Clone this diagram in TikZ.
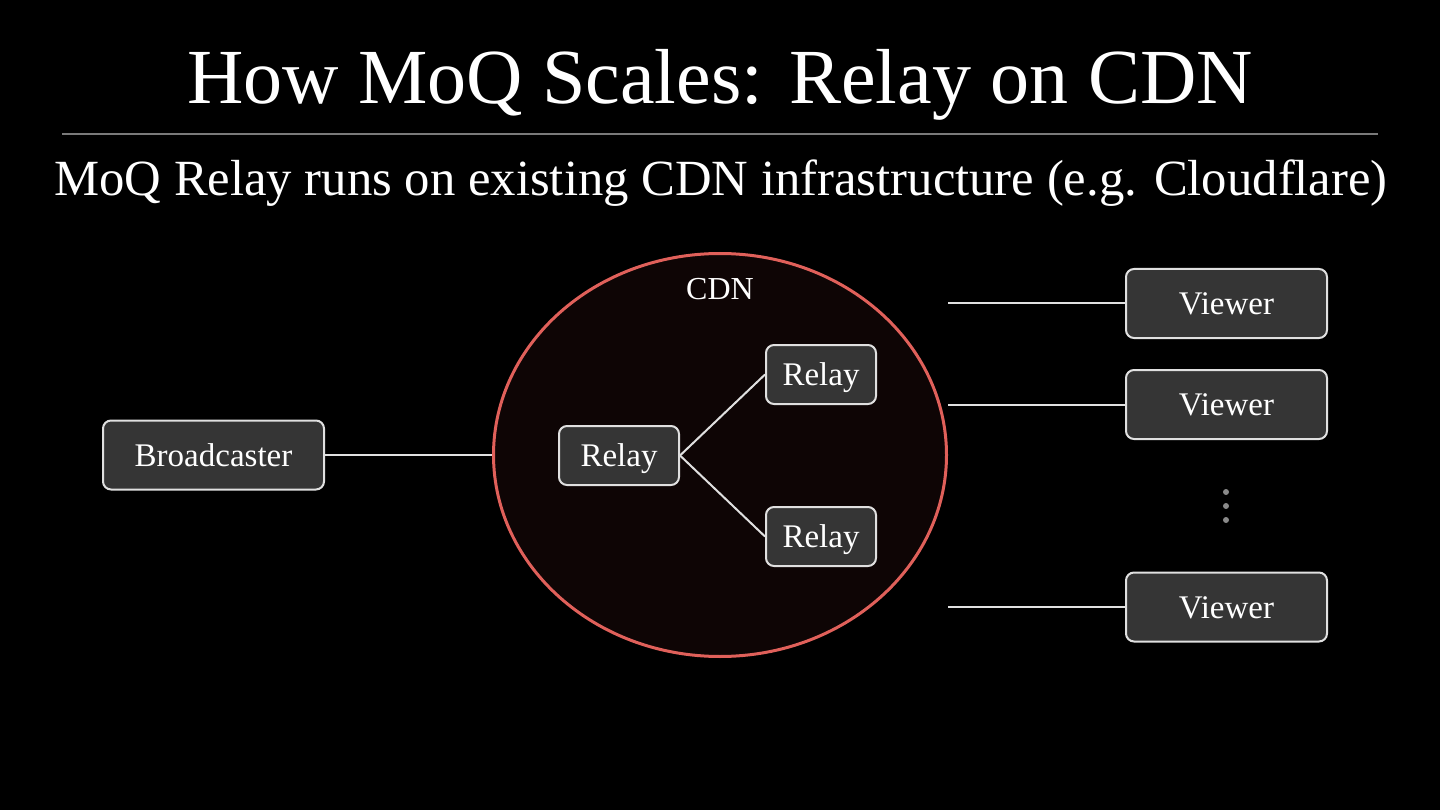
\documentclass[tikz,border=0pt]{standalone}
\usepackage{fontspec}
\setmainfont{Liberation Serif}
\usetikzlibrary{shapes.geometric}

\definecolor{cdnred}{HTML}{E0605A}
\definecolor{cdnfill}{HTML}{0E0505}
\definecolor{boxfill}{HTML}{353535}
\definecolor{boxline}{HTML}{E0E0E0}
\definecolor{rulegray}{HTML}{7A7A7A}
\definecolor{dotgray}{HTML}{8A8A8A}

\begin{document}
\begin{tikzpicture}[x=1pt,y=-1pt,
    box/.style={draw=boxline, fill=boxfill, line width=2pt, rounded corners=8pt,
        text=white, inner sep=0pt, text height=22pt, text depth=0pt,
        font=\fontsize{33}{36}\selectfont, minimum height=69},
    link/.style={draw=boxline, line width=2pt}]
    % Background
    \fill[black] (0,0) rectangle (1440,810);

    % Title and subtitle
    \node[text=white, font=\fontsize{78}{80}\selectfont, anchor=base] (title) at (720,104) {How MoQ Scales: Relay on CDN};
    \draw[rulegray, line width=1.5pt] (62,134) -- (1378,134);
    \node[text=white, font=\fontsize{50.7}{54}\selectfont, anchor=base] (subtitle) at (721,196) {MoQ Relay runs on existing CDN infrastructure (e.g. Cloudflare)};

    % The CDN
    \node[ellipse, draw=cdnred, fill=cdnfill, line width=3pt, inner sep=0pt,
        minimum width=453, minimum height=403] (cdn) at (720,455) {};
    \node[text=white, font=\fontsize{32}{34}\selectfont, anchor=base] (cdnlabel) at (720,300) {CDN};

    % Relays
    \node[box, minimum width=120, minimum height=59] (relay) at (619,455.5) {Relay};
    \node[box, minimum width=110, minimum height=59] (relaytop) at (821,374.5) {Relay};
    \node[box, minimum width=110, minimum height=59] (relaybot) at (821,536.5) {Relay};

    % Broadcaster and viewers
    \node[box, minimum width=221] (bcast) at (213.5,455) {Broadcaster};
    \foreach \y/\name in {303.5/viewa, 404.5/viewb, 607/viewc} {
        \node[box, minimum width=201] (\name) at (1226.5,\y) {Viewer};
        \coordinate (\name-in) at (948,\y);
    }

    % Draw the links
    \draw[link] (bcast.east) -- (cdn.west);
    \draw[link] (relay.east) -- (relaytop.west);
    \draw[link] (relay.east) -- (relaybot.west);
    \foreach \name in {viewa, viewb, viewc}
        \draw[link] (\name-in) -- (\name.west);

    % More viewers
    \foreach \y in {492,506,520}
        \fill[dotgray] (1226,\y) circle (3);
\end{tikzpicture}
\end{document}
